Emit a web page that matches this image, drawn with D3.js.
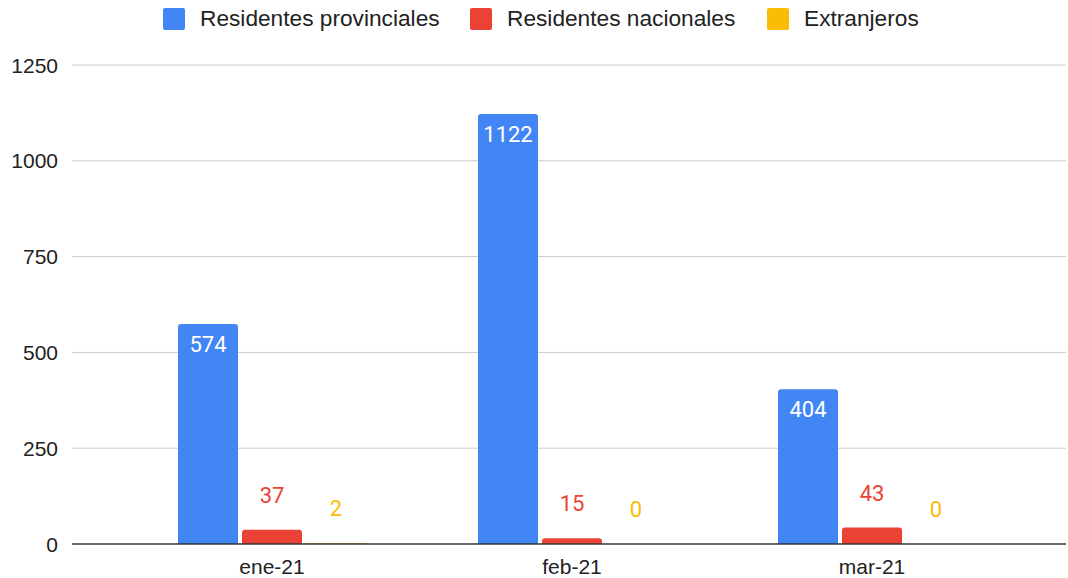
<!DOCTYPE html>
<html>
<head>
<meta charset="utf-8">
<script src="https://cdn.jsdelivr.net/npm/d3@7"></script>
<style>
  body { margin: 0; background: #fff; }
  svg { font-family: "Liberation Sans", Arial, sans-serif; }
</style>
</head>
<body>
<svg width="1068" height="578"></svg>
<script>
// Chart data
const months = ["ene-21", "feb-21", "mar-21"];
const seriesNames = ["Residentes provinciales", "Residentes nacionales", "Extranjeros"];
const provinciales = [574, 1122, 404];
const nacionales = [37, 15, 43];
const extranjeros = [2, 0, 0];
const yTicks = [0, 250, 500, 750, 1000, 1250];

const colors = ["#4285F4", "#EA4335", "#FBBC04"];
const series = [provinciales, nacionales, extranjeros];

const svg = d3.select("svg");

// Scales
const y = d3.scaleLinear().domain([0, 1250]).range([544, 65]);
const x0 = d3.scaleBand().domain(months).range([122, 1022]).padding(0);
const groupW = 188;
const x1 = d3.scaleBand()
    .domain(d3.range(series.length))
    .range([(x0.bandwidth() - groupW) / 2, (x0.bandwidth() + groupW) / 2])
    .paddingInner(0.0625);

// Gridlines and y labels
svg.append("g").selectAll("line")
    .data(yTicks.filter(t => t > 0))
    .join("line")
    .attr("x1", 72).attr("x2", 1066)
    .attr("y1", d => y(d)).attr("y2", d => y(d))
    .attr("stroke", "#cccccc")
    .attr("stroke-width", 1);

svg.append("g").selectAll("text")
    .data(yTicks)
    .join("text")
    .attr("x", 58)
    .attr("y", d => y(d))
    .attr("dy", "0.36em")
    .attr("text-anchor", "end")
    .attr("font-size", 21)
    .attr("fill", "#222")
    .text(d => d);

// Rounded-top bar path
function barPath(x, yTop, w, h, r) {
    r = Math.min(r, h, w / 2);
    if (h <= 0) return "";
    return `M${x},${yTop + h}V${yTop + r}Q${x},${yTop} ${x + r},${yTop}` +
        `H${x + w - r}Q${x + w},${yTop} ${x + w},${yTop + r}V${yTop + h}Z`;
}

// Bars
const groups = svg.append("g").selectAll("g")
    .data(months)
    .join("g")
    .attr("transform", d => `translate(${x0(d)},0)`);

groups.selectAll("path")
    .data((m, i) => series.map((s, k) => ({ k, v: s[i] })))
    .join("path")
    .attr("d", d => barPath(x1(d.k), y(d.v), x1.bandwidth(), y(0) - y(d.v), 3))
    .attr("fill", d => colors[d.k]);

// Value labels
groups.selectAll("text")
    .data((m, i) => series.map((s, k) => ({ k, v: s[i] })))
    .join("text")
    .attr("x", d => x1(d.k) + x1.bandwidth() / 2)
    .attr("y", d => d.k === 0 ? y(d.v) + 28 : y(d.v) - 27)
    .attr("text-anchor", "middle")
    .attr("font-family", "Roboto, sans-serif")
    .attr("font-size", 22)
    .attr("fill", d => d.k === 0 ? "#ffffff" : colors[d.k])
    .text(d => d.v);

// Baseline
svg.append("line")
    .attr("x1", 72).attr("x2", 1066)
    .attr("y1", y(0)).attr("y2", y(0))
    .attr("stroke", "#333")
    .attr("stroke-width", 1.5);

// X labels
svg.append("g").selectAll("text")
    .data(months)
    .join("text")
    .attr("x", d => x0(d) + x0.bandwidth() / 2)
    .attr("y", 574)
    .attr("text-anchor", "middle")
    .attr("font-size", 21)
    .attr("fill", "#222")
    .text(d => d);

// Legend
const legendX = [163, 470, 767];
const legend = svg.append("g").selectAll("g")
    .data(seriesNames)
    .join("g")
    .attr("transform", (d, i) => `translate(${legendX[i]},8)`);
legend.append("rect")
    .attr("width", 22).attr("height", 22)
    .attr("rx", 2)
    .attr("fill", (d, i) => colors[i]);
legend.append("text")
    .attr("x", 37)
    .attr("y", 18)
    .attr("font-size", 22.7)
    .attr("fill", "#222")
    .text(d => d);
</script>
</body>
</html>
